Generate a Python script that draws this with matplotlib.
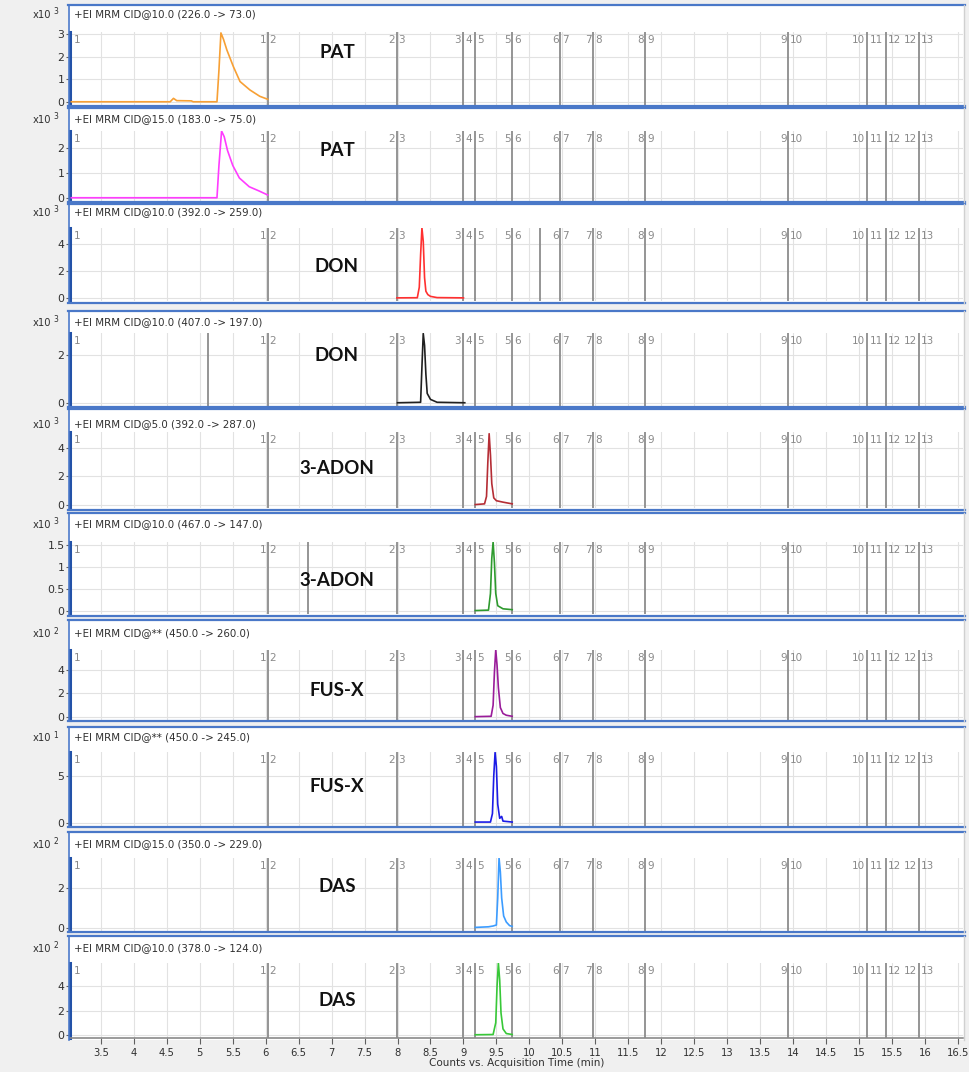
import numpy as np
import matplotlib.pyplot as plt
from matplotlib.patches import Rectangle
from matplotlib.lines import Line2D

W, H = 969, 1072

# segment boundaries (acquisition time, min)
seg_bounds = [6.03, 7.99, 8.99, 9.18, 9.74, 10.47, 10.97, 11.76, 13.93, 15.12, 15.41, 15.91]

titles = [
    '+EI MRM CID@10.0 (226.0 -> 73.0)',
    '+EI MRM CID@15.0 (183.0 -> 75.0)',
    '+EI MRM CID@10.0 (392.0 -> 259.0)',
    '+EI MRM CID@10.0 (407.0 -> 197.0)',
    '+EI MRM CID@5.0 (392.0 -> 287.0)',
    '+EI MRM CID@10.0 (467.0 -> 147.0)',
    '+EI MRM CID@** (450.0 -> 260.0)',
    '+EI MRM CID@** (450.0 -> 245.0)',
    '+EI MRM CID@15.0 (350.0 -> 229.0)',
    '+EI MRM CID@10.0 (378.0 -> 124.0)',
]
compounds = ['PAT', 'PAT', 'DON', 'DON', '3-ADON', '3-ADON', 'FUS-X', 'FUS-X', 'DAS', 'DAS']
exponents = [3, 3, 3, 3, 3, 3, 2, 1, 2, 2]
colors = ['#f7a035', '#ff3cff', '#ff3030', '#202020', '#b52d35',
          '#2e9a2e', '#9a1c9a', '#1c1ce6', '#3c9cff', '#38c838']
ymax_list = [3.08, 2.68, 5.19, 2.92, 5.12, 1.57, 5.7, 7.55, 3.5, 5.9]
yticks_list = [[0, 1, 2, 3], [0, 1, 2], [0, 2, 4], [0, 2], [0, 2, 4],
               [0, 0.5, 1, 1.5], [0, 2, 4], [0, 5], [0, 2], [0, 2, 4]]
ytick_labels = [['0', '1', '2', '3'], ['0', '1', '2'], ['0', '2', '4'], ['0', '2'], ['0', '2', '4'],
                ['0', '0.5', '1', '1.5'], ['0', '2', '4'], ['0', '5'], ['0', '2'], ['0', '2', '4']]
extra_lines = [[], [], [10.16], [5.12], [], [6.64], [], [], [], []]

# traces (time in min, counts in units of the panel exponent)
pat1_t = [3.05, 4.55, 4.6, 4.65, 4.87, 4.9, 5.26, 5.29, 5.32, 5.36, 5.41, 5.51, 5.61, 5.76, 5.91, 6.03]
pat1_y = [0.01, 0.01, 0.16, 0.06, 0.05, 0.01, 0.01, 1.4, 3.04, 2.75, 2.29, 1.55, 0.9, 0.53, 0.25, 0.12]
pat2_t = [3.05, 5.26, 5.29, 5.33, 5.37, 5.42, 5.5, 5.6, 5.75, 5.9, 6.03]
pat2_y = [0.01, 0.01, 1.3, 2.68, 2.45, 1.9, 1.3, 0.8, 0.45, 0.28, 0.12]
don1_t = [7.99, 8.3, 8.33, 8.35, 8.37, 8.39, 8.41, 8.43, 8.46, 8.5, 8.6, 9.0]
don1_y = [0.01, 0.02, 0.8, 3.2, 5.2, 4.2, 1.5, 0.5, 0.25, 0.12, 0.03, 0.01]
don2_t = [8.0, 8.35, 8.37, 8.39, 8.41, 8.43, 8.45, 8.5, 8.6, 9.02]
don2_y = [0.01, 0.03, 1.5, 2.9, 2.4, 1.2, 0.4, 0.15, 0.03, 0.01]
adon1_t = [9.18, 9.32, 9.35, 9.37, 9.39, 9.41, 9.43, 9.46, 9.5, 9.6, 9.74]
adon1_y = [0.03, 0.08, 0.6, 3.0, 5.0, 3.5, 1.5, 0.5, 0.3, 0.2, 0.08]
adon2_t = [9.18, 9.38, 9.41, 9.43, 9.45, 9.47, 9.49, 9.52, 9.6, 9.74]
adon2_y = [0.01, 0.02, 0.4, 1.2, 1.57, 1.1, 0.4, 0.12, 0.05, 0.03]
fusx1_t = [9.18, 9.42, 9.45, 9.47, 9.49, 9.51, 9.53, 9.56, 9.6, 9.65, 9.74]
fusx1_y = [0.03, 0.06, 1.0, 3.8, 5.7, 4.4, 2.5, 0.8, 0.3, 0.15, 0.06]
fusx2_t = [9.18, 9.41, 9.44, 9.46, 9.48, 9.5, 9.52, 9.55, 9.58, 9.6, 9.74]
fusx2_y = [0.1, 0.1, 1.0, 5.0, 7.5, 6.0, 2.0, 0.5, 0.7, 0.2, 0.1]
das1_t = [9.18, 9.38, 9.45, 9.5, 9.52, 9.54, 9.56, 9.58, 9.61, 9.65, 9.7, 9.74]
das1_y = [0.03, 0.06, 0.1, 0.15, 1.5, 3.5, 2.8, 1.5, 0.6, 0.3, 0.12, 0.08]
das2_t = [9.18, 9.45, 9.49, 9.51, 9.53, 9.55, 9.57, 9.6, 9.65, 9.74]
das2_y = [0.02, 0.04, 1.0, 4.0, 5.9, 4.5, 1.8, 0.5, 0.12, 0.04]

traces = [(pat1_t, pat1_y), (pat2_t, pat2_y), (don1_t, don1_y), (don2_t, don2_y),
          (adon1_t, adon1_y), (adon2_t, adon2_y), (fusx1_t, fusx1_y), (fusx2_t, fusx2_y),
          (das1_t, das1_y), (das2_t, das2_y)]

# layout in pixels (from the top)
frame_top = [5, 108, 204, 311, 409, 513, 620, 727, 832, 936]
frame_bot = [106, 202, 303, 407, 510, 616, 721, 827, 932, 1040]
head_y = [14, 119, 212, 322, 424, 524, 633, 737, 844, 948]
plot_top = [32, 131, 228, 333, 432, 542, 650, 752, 858, 963]
plot_bot = [105, 201, 301, 406, 508, 614, 720, 826, 931, 1038]
name_y = [53, 150, 266, 355, 468, 581, 690, 787, 887, 1000]
x_left, x_right = 70, 963
xlim = (3.03, 16.58)

blue = '#4a78c8'
dark_blue = '#2352a8'
seg_color = '#8a8a8a'

fig = plt.figure(figsize=(W / 100, H / 100), dpi=100, facecolor='#f0f0f0')


def fy(p):
    return 1 - p / H


def seg_label(ax, x, s, dx, ha):
    ax.annotate(s, xy=(x, 1), xycoords=('data', 'axes fraction'),
                xytext=(dx, -2), textcoords='offset points', ha=ha, va='top',
                fontsize=7.5, color=seg_color)


for i in range(10):
    ft, fb = frame_top[i], frame_bot[i]
    fig.patches.append(Rectangle((68 / W, fy(fb)), (965 - 68) / W, (fb - ft) / H,
                                 transform=fig.transFigure, facecolor='white',
                                 edgecolor='none', zorder=-10))
    fig.add_artist(Line2D([68 / W, 965 / W], [fy(ft), fy(ft)], color=blue, lw=1.6, zorder=5))
    if i < 9:
        fig.add_artist(Line2D([68 / W, 965 / W], [fy(fb), fy(fb)], color=blue, lw=1.6, zorder=5))
    fig.add_artist(Line2D([69 / W, 69 / W], [fy(fb), fy(ft)], color=blue, lw=1.2, zorder=5))
    fig.add_artist(Line2D([964 / W, 964 / W], [fy(fb), fy(ft)], color='#d0d0d0', lw=1.0, zorder=5))

    fig.text(74 / W, fy(head_y[i]), titles[i], fontsize=7.4, color='#303030',
             ha='left', va='center')
    fig.text(51 / W, fy(head_y[i] + 1), 'x10', fontsize=7.2, color='#303030',
             ha='right', va='center')
    fig.text(53 / W, fy(head_y[i] - 2), str(exponents[i]), fontsize=5.5,
             color='#303030', ha='left', va='center')

    pt, pb = plot_top[i], plot_bot[i]
    ax = fig.add_axes([x_left / W, fy(pb), (x_right - x_left) / W, (pb - pt) / H])
    ax.set_facecolor('none')
    ymax = ymax_list[i]
    ppu = (pb - 3 - pt) / ymax
    ax.set_xlim(*xlim)
    ax.set_ylim(-3 / ppu, ymax)

    ax.set_xticks(np.arange(3.5, 16.6, 0.5))
    ax.set_yticks(yticks_list[i])
    ax.set_yticklabels(ytick_labels[i])
    ax.grid(True, color='#e2e2e2', lw=0.8, zorder=0)
    ax.set_axisbelow(True)
    ax.tick_params(axis='y', labelsize=7.8, labelcolor='#303030', length=3,
                   color='#606060', width=0.8, pad=1)

    for s in ['top', 'right', 'bottom']:
        ax.spines[s].set_visible(False)
    ax.spines['left'].set_color(dark_blue)
    ax.spines['left'].set_linewidth(2.2)

    if i == 9:
        ax.spines['bottom'].set_visible(True)
        ax.spines['bottom'].set_color('#8a8a8a')
        ax.spines['bottom'].set_linewidth(1.2)
        xt = np.arange(3.5, 16.6, 0.5)
        ax.set_xticklabels(['%g' % v for v in xt])
        ax.tick_params(axis='x', labelsize=7.2, labelcolor='#303030', length=4,
                       color='#606060', width=0.8, pad=3)
    else:
        ax.tick_params(axis='x', length=0, labelbottom=False)

    for b in seg_bounds + extra_lines[i]:
        ax.axvline(b, color='#8c8c8c', lw=1.3, zorder=2)

    # segment numbers: each segment labelled just inside both of its boundaries,
    # or once in the middle when the segment is too narrow
    edges = [xlim[0]] + seg_bounds + [xlim[1]]
    for n in range(1, len(edges)):
        lo, hi = edges[n - 1], edges[n]
        s = str(n)
        if n == len(edges) - 1:
            seg_label(ax, lo, s, 1.2, 'left')
        elif n == 1:
            seg_label(ax, lo, s, 3, 'left')
            seg_label(ax, hi, s, -1.2, 'right')
        elif hi - lo < 0.4:
            seg_label(ax, (lo + hi) / 2, s, 0, 'center')
        else:
            seg_label(ax, lo, s, 1.2, 'left')
            seg_label(ax, hi, s, -1.2, 'right')

    t, y = traces[i]
    ax.plot(t, y, color=colors[i], lw=1.2, zorder=3)

    ax.text(7.08, (pb - name_y[i]) / (pb - pt), compounds[i],
            transform=ax.get_xaxis_transform(), ha='center', va='center',
            fontsize=13.5, fontweight='bold', family='Lato', color='#111111')

fig.text(517 / W, fy(1063), 'Counts vs. Acquisition Time (min)', fontsize=7.5,
         color='#303030', ha='center', va='center')

fig.savefig('out.png', dpi=100, facecolor=fig.get_facecolor())
